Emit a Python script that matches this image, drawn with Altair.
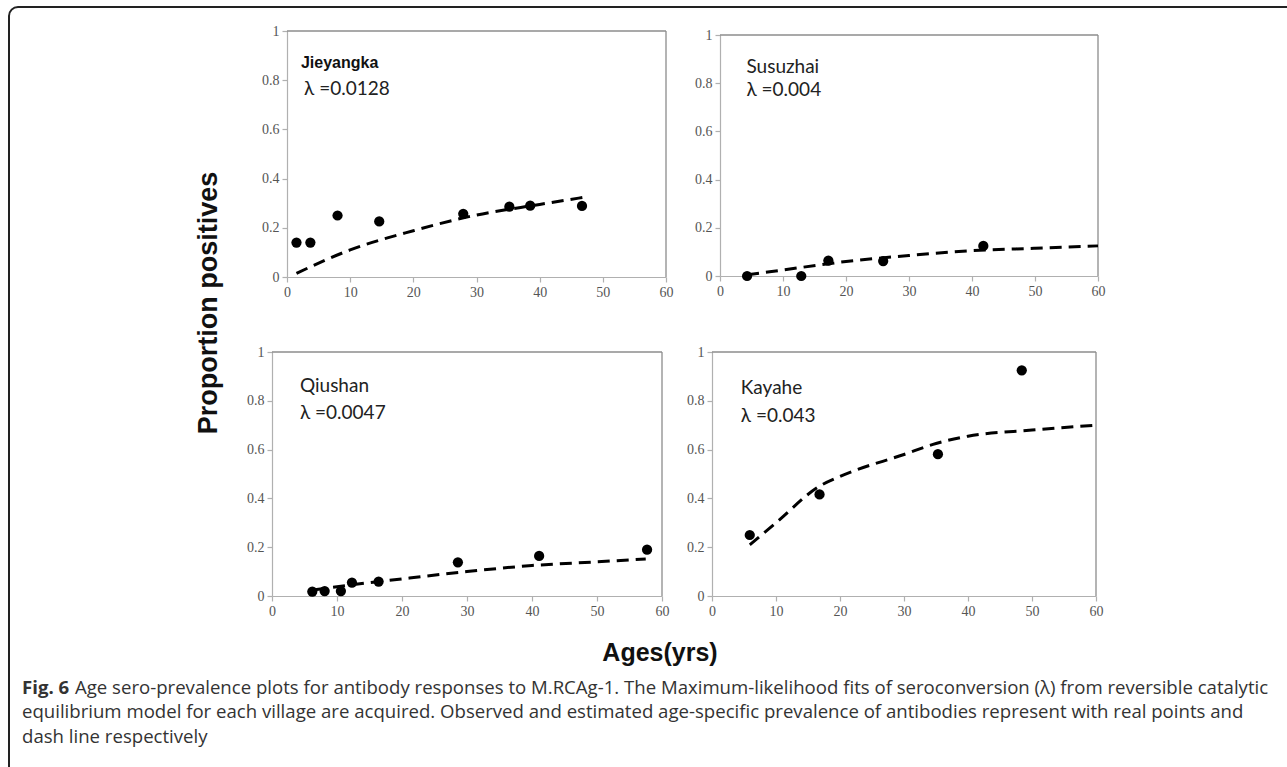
import altair as alt
import pandas as pd

W, H = 1287, 767

# ---------------- data ----------------
villages = ["Jieyangka", "Susuzhai", "Qiushan", "Kayahe"]
lambdas = ["λ =0.0128", "λ =0.004", "λ =0.0047", "λ =0.043"]

jie_age = [1.5, 3.7, 8.0, 14.6, 27.9, 35.2, 38.5, 46.7]
jie_obs = [0.14, 0.14, 0.25, 0.226, 0.257, 0.286, 0.29, 0.289]
jie_fit_age = [1.5, 10, 20, 30, 40, 47]
jie_fit = [0.015, 0.11, 0.188, 0.252, 0.295, 0.324]

sus_age = [4.3, 12.9, 17.2, 25.9, 41.8]
sus_obs = [0.0, 0.0, 0.064, 0.062, 0.125]
sus_fit_age = [4.3, 10, 20, 30, 40, 50, 60]
sus_fit = [0.005, 0.025, 0.06, 0.085, 0.105, 0.115, 0.125]

qiu_age = [6.2, 8.1, 10.6, 12.3, 16.4, 28.6, 41.1, 57.7]
qiu_obs = [0.018, 0.02, 0.02, 0.055, 0.059, 0.138, 0.164, 0.19]
qiu_fit_age = [6.5, 10, 20, 30, 40, 50, 57.5]
qiu_fit = [0.025, 0.038, 0.07, 0.1, 0.125, 0.14, 0.152]

kay_age = [5.9, 16.8, 35.3, 48.4]
kay_obs = [0.25, 0.416, 0.581, 0.925]
kay_fit_age = [5.9, 10, 16.8, 20, 30, 35, 40, 50, 60]
kay_fit = [0.21, 0.3, 0.45, 0.49, 0.58, 0.625, 0.655, 0.68, 0.70]

x_ticks = [0, 10, 20, 30, 40, 50, 60]
y_ticks = [0, 0.2, 0.4, 0.6, 0.8, 1]

caption_bold = "Fig. 6"
caption_lines = [
    "Age sero-prevalence plots for antibody responses to M.RCAg-1. The Maximum-likelihood fits of seroconversion (λ) from reversible catalytic",
    "equilibrium model for each village are acquired. Observed and estimated age-specific prevalence of antibodies represent with real points and",
    "dash line respectively",
]

# panel placement (pixel ranges of the scales) and label anchors
panel_x = [[287, 666], [720, 1098], [272, 662], [712, 1096]]
panel_y = [[277, 31], [276, 35], [596, 352], [596, 352]]
label_x = [2.2, 4.2, 4.3, 4.5]
label_y = [(0.87, 0.764), (0.868, 0.772), (0.862, 0.752), (0.852, 0.738)]

series = [
    (jie_age, jie_obs, jie_fit_age, jie_fit),
    (sus_age, sus_obs, sus_fit_age, sus_fit),
    (qiu_age, qiu_obs, qiu_fit_age, qiu_fit),
    (kay_age, kay_obs, kay_fit_age, kay_fit),
]

AX_GRAY = "#b0b0b0"


def panel(i):
    age, obs, fage, fit = series[i]
    px, py = panel_x[i], panel_y[i]
    xs = alt.Scale(domain=[0, 60], range=px, nice=False, zero=False)
    ys = alt.Scale(domain=[0, 1], range=py, nice=False, zero=False)
    xa = alt.Axis(orient="bottom", offset=py[0] - H, values=x_ticks, title=None,
                  grid=False, labelFlush=False)
    ya = alt.Axis(orient="left", offset=-px[0], values=y_ticks, format="~g",
                  title=None, grid=False)

    def X(f):
        return alt.X(f, type="quantitative", scale=xs, axis=xa)

    def Y(f):
        return alt.Y(f, type="quantitative", scale=ys, axis=ya)

    frame_df = pd.DataFrame({"x": [0, 60], "x2": [60, 60], "y": [1, 0], "y2": [1, 1]})
    frame = alt.Chart(frame_df).mark_rule(color="#8c8c8c", strokeWidth=1.3).encode(
        x=X("x"), x2="x2", y=Y("y"), y2="y2")

    fit_df = pd.DataFrame({"age": fage, "p": fit})
    line = alt.Chart(fit_df).mark_line(color="black", strokeWidth=3,
                                       strokeDash=[12, 7], interpolate="monotone").encode(
        x=X("age"), y=Y("p"))

    obs_df = pd.DataFrame({"age": age, "p": obs})
    pts = alt.Chart(obs_df).mark_circle(color="black", opacity=1, size=105).encode(
        x=X("age"), y=Y("p"))

    if i == 0:
        name_mark = alt.Chart(pd.DataFrame({"lx": [label_x[i]], "ly": [label_y[i][0]], "t": [villages[i]]})
                              ).mark_text(align="left", baseline="middle", font="Liberation Sans",
                                          fontWeight="bold", fontSize=16, color="#111")
    else:
        name_mark = alt.Chart(pd.DataFrame({"lx": [label_x[i]], "ly": [label_y[i][0]], "t": [villages[i]]})
                              ).mark_text(align="left", baseline="middle", font="Lato, Noto Sans",
                                          fontSize=19, color="#222")
    name_t = name_mark.encode(x=X("lx"), y=Y("ly"), text="t:N")

    lam_t = alt.Chart(pd.DataFrame({"lx": [label_x[i] + (0.5 if i == 0 else 0)],
                                    "ly": [label_y[i][1]], "t": [lambdas[i]]})).mark_text(
        align="left", baseline="middle", font="Lato, Noto Sans", fontSize=19, color="#222"
    ).encode(x=X("lx"), y=Y("ly"), text="t:N")

    return alt.layer(frame, line, pts, name_t, lam_t)


one = pd.DataFrame({"a": [0]})

border = alt.Chart(one).mark_rect(filled=False, stroke="#222", strokeWidth=2,
                                  cornerRadius=9).encode(
    x=alt.value(9), x2=alt.value(1310), y=alt.value(7), y2=alt.value(790))

ytitle = alt.Chart(one).mark_text(text="Proportion  positives", angle=270, font="Liberation Sans",
                                  fontWeight="bold", fontSize=27, color="#111",
                                  align="center", baseline="middle").encode(
    x=alt.value(209), y=alt.value(303))

xtitle = alt.Chart(one).mark_text(text="Ages(yrs)", font="Liberation Sans", fontWeight="bold",
                                  fontSize=25, color="#111", align="center",
                                  baseline="middle").encode(
    x=alt.value(660), y=alt.value(653))

cap_y = [688, 712, 737]
CAP_FS = 18.6
fig_t = alt.Chart(one).mark_text(text=caption_bold, font="Open Sans", fontWeight="bold",
                                 fontSize=CAP_FS, color="#333", align="left",
                                 baseline="middle").encode(
    x=alt.value(22), y=alt.value(cap_y[0]))

cap_layers = []
for k, line_txt in enumerate(caption_lines):
    cap_layers.append(
        alt.Chart(pd.DataFrame({"t": [line_txt]})).mark_text(
            font="Open Sans", fontSize=CAP_FS, color="#333", align="left", baseline="middle"
        ).encode(x=alt.value(75 if k == 0 else 22), y=alt.value(cap_y[k]), text="t:N")
    )

chart = alt.layer(
    panel(0), panel(1), panel(2), panel(3),
    border, ytitle, xtitle, fig_t, *cap_layers
).resolve_scale(x="independent", y="independent").properties(
    width=W, height=H, padding=0, autosize=alt.AutoSizeParams(type="none"),
    background="white"
).configure_view(stroke=None).configure_axis(
    labelFont="Liberation Serif", labelFontSize=14, labelColor="#555555",
    domainColor=AX_GRAY, tickColor=AX_GRAY, tickSize=5, labelPadding=3,
    domainWidth=1.2, tickWidth=1.2
)

chart.save("out.html", embed_options={"renderer": "svg", "actions": False})
